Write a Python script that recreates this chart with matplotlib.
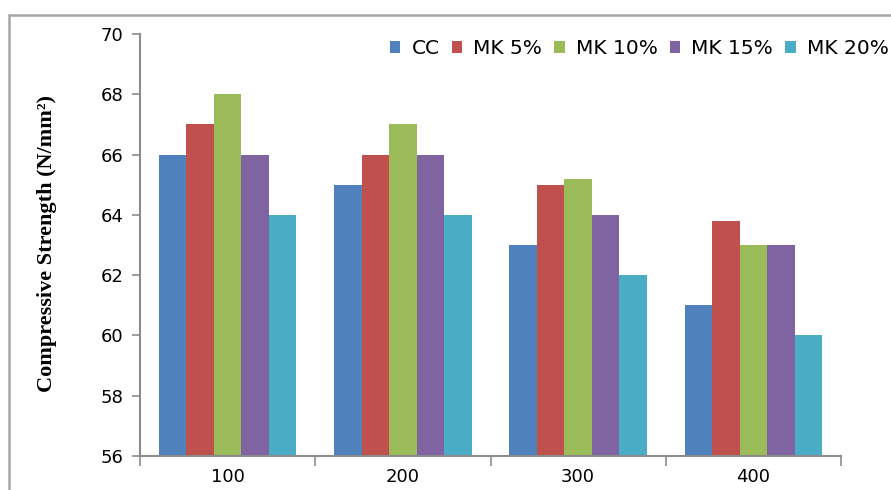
import matplotlib.pyplot as plt
import numpy as np
from matplotlib.patches import Rectangle

categories = ["100", "200", "300", "400"]
series = ["CC", "MK 5%", "MK 10%", "MK 15%", "MK 20%"]
cc = [66, 65, 63, 61]
mk5 = [67, 66, 65, 63.8]
mk10 = [68, 67, 65.2, 63]
mk15 = [66, 66, 64, 63]
mk20 = [64, 64, 62, 60]
values = [cc, mk5, mk10, mk15, mk20]
colors = ["#4F81BD", "#C0504D", "#9BBB59", "#8064A2", "#4BACC6"]

fig = plt.figure(figsize=(8.91, 4.9), dpi=100)
ax = fig.add_axes([140 / 891, 1 - 456 / 490, 701 / 891, 422 / 490])

# chart-area frame (only top and left edges visible in the crop)
fig.patches.append(Rectangle((9 / 891, -0.1), 1.2, 1 - 15 / 490 + 0.1,
                             transform=fig.transFigure, fill=False,
                             edgecolor="#A6A6A6", linewidth=1.8))

x = np.arange(len(categories))
w = 0.157
for i, (name, vals) in enumerate(zip(series, values)):
    ax.bar(x + (i - 2) * w, np.array(vals) - 56, w, bottom=56,
           color=colors[i], label=name, edgecolor="none")

ax.set_xlim(-0.5, 3.5)
ax.set_ylim(56, 70)
ax.set_yticks(range(56, 71, 2))
ax.set_xticks(np.arange(-0.5, 4, 1))
ax.set_xticklabels([])
ax.set_xticks(x, minor=True)
ax.set_xticklabels(categories, minor=True)

for s in ["top", "right"]:
    ax.spines[s].set_visible(False)
for s in ["left", "bottom"]:
    ax.spines[s].set_color("#8C8C8C")
    ax.spines[s].set_linewidth(1.5)

ax.tick_params(axis="y", length=6, width=1.2, color="#8C8C8C", pad=6,
               labelsize=13)
ax.tick_params(axis="x", which="major", length=7, width=1.2, color="#8C8C8C")
ax.tick_params(axis="x", which="minor", length=0, pad=9, labelsize=13)

fig.text(47 / 891, 1 - 243 / 490, "Compressive Strength (N/mm²)",
         rotation=90, ha="center", va="center", fontsize=16,
         fontweight="bold", family="Liberation Serif")

ax.legend(loc="center left", bbox_to_anchor=(390 / 891, 1 - 49 / 490),
          bbox_transform=fig.transFigure, ncol=5, frameon=False,
          fontsize=14.5, handlelength=0.52, handleheight=0.52,
          handletextpad=0.55, columnspacing=0.6, borderaxespad=0,
          borderpad=0)

fig.savefig("out.png", dpi=100)
